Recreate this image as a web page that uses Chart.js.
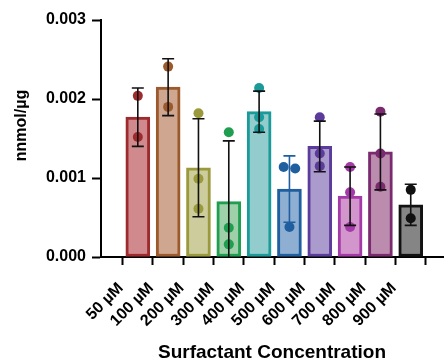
<!DOCTYPE html>
<html lang="en">
<head>
<meta charset="UTF-8" />
<title>Surfactant Concentration</title>
<script src="https://cdn.jsdelivr.net/npm/chart.js"></script>
<style>
  html, body { margin: 0; padding: 0; background: #fff; }
  #wrap { width: 448px; height: 361px; }
</style>
</head>
<body>
<div id="wrap"><canvas id="chart"></canvas></div>
<script>
// data (nnmol/µg)
const categories = ['50 µM', '100 µM', '200 µM', '300 µM', '400 µM', '500 µM', '600 µM', '700 µM', '800 µM', '900 µM'];
const means = [0.00177, 0.00215, 0.00113, 0.00070, 0.00184, 0.00086, 0.00140, 0.00077, 0.00133, 0.00066];
const sds = [0.00037, 0.00036, 0.00062, 0.00077, 0.00026, 0.00042, 0.00032, 0.00037, 0.00048, 0.00026];
const replicates = [
    [0.00204, 0.00152],
    [0.00241, 0.00190],
    [0.00182, 0.00099, 0.00061],
    [0.00158, 0.00037, 0.00016],
    [0.00214, 0.00177, 0.00162],
    [0.00114, 0.00112, 0.00038],
    [0.00177, 0.00131, 0.00115],
    [0.00114, 0.00082, 0.00038],
    [0.00184, 0.00131, 0.00089],
    [0.00085, 0.00049]
];
const yTicks = [0, 0.001, 0.002, 0.003];
const yTitle = 'nnmol/µg';

// colours
const lineColors = ['#9e2a2e', '#9c5a2c', '#9a9a3c', '#1f9e50', '#1b9a9a', '#1f5fa0', '#5b3b9c', '#a43aa8', '#7a2a6e', '#111111'];
const fillColors = ['#d08a8d', '#cfa68f', '#cccc9c', '#9ed0a9', '#93cccc', '#8eaed2', '#ab9acc', '#d296cc', '#bc8cae', '#858585'];
const errColors = ['#111', '#111', '#111', '#111', '#111', '#1f5fa0', '#111', '#111', '#111', '#111'];

const FONT = 'Liberation Sans, Arial, Helvetica, sans-serif';
Chart.defaults.color = '#000';
Chart.defaults.font.family = FONT;

// scatter points, spread apart when two replicates nearly coincide
const pointData = [];
const pointColors = [];
replicates.forEach((vals, i) => {
    vals.forEach((v, j) => {
        const twin = vals.findIndex((w, k) => k !== j && Math.abs(w - v) < 0.00008);
        const shift = twin < 0 ? 0 : (j < twin ? -0.19 : 0.19);
        pointData.push({ x: i + shift, y: v });
        pointColors.push(lineColors[i]);
    });
});

// mean ± SD whiskers, drawn on top of bars and points
const errorBars = {
    id: 'errorBars',
    afterDatasetsDraw(chart) {
        const { ctx, scales: { x, y } } = chart;
        ctx.save();
        ctx.lineWidth = 1.6;
        means.forEach((m, i) => {
            const px = x.getPixelForValue(i);
            const hi = m + sds[i];
            const lo = m - sds[i];
            const yHi = y.getPixelForValue(hi);
            const yLo = y.getPixelForValue(Math.max(lo, y.min));
            ctx.strokeStyle = errColors[i];
            ctx.beginPath();
            ctx.moveTo(px, yHi);
            ctx.lineTo(px, yLo);
            ctx.moveTo(px - 6, yHi);
            ctx.lineTo(px + 6, yHi);
            if (lo >= y.min) {
                ctx.moveTo(px - 6, yLo);
                ctx.lineTo(px + 6, yLo);
            }
            ctx.stroke();
        });
        ctx.restore();
    }
};

// y title sits a bit above the middle of the axis in the original, so draw it by hand
const yTitlePlugin = {
    id: 'yTitle',
    afterDraw(chart) {
        const { ctx, chartArea } = chart;
        ctx.save();
        ctx.translate(22, chartArea.top + (chartArea.bottom - chartArea.top) * 0.445);
        ctx.rotate(-Math.PI / 2);
        ctx.font = 'bold 16px ' + FONT;
        ctx.fillStyle = '#000';
        ctx.textAlign = 'center';
        ctx.textBaseline = 'middle';
        ctx.fillText(yTitle, 0, 0);
        ctx.restore();
    }
};

new Chart(document.getElementById('chart'), {
    type: 'bar',
    data: {
        datasets: [
            {
                type: 'scatter',
                data: pointData,
                pointRadius: 5,
                pointBackgroundColor: pointColors,
                pointBorderColor: pointColors,
                pointBorderWidth: 0,
                order: 1
            },
            {
                type: 'bar',
                data: means.map((m, i) => ({ x: i, y: m })),
                backgroundColor: fillColors,
                borderColor: lineColors,
                borderWidth: 3,
                borderSkipped: false,
                barThickness: 24,
                order: 2
            }
        ]
    },
    options: {
        responsive: true,
        maintainAspectRatio: false,
        animation: false,
        layout: { padding: { top: 20, right: 1, left: 0, bottom: 0 } },
        plugins: {
            legend: { display: false },
            tooltip: { enabled: false }
        },
        scales: {
            x: {
                type: 'linear',
                min: -0.65,
                max: 9.5,
                afterFit: (s) => { s.height = 104; },
                border: { color: '#000', width: 2 },
                grid: { drawOnChartArea: false, tickLength: 8, tickWidth: 2, tickColor: '#000' },
                ticks: {
                    stepSize: 1,
                    includeBounds: false,
                    autoSkip: false,
                    maxRotation: 45,
                    minRotation: 45,
                    padding: 14,
                    labelOffset: -17,
                    font: { size: 16, weight: 'bold' },
                    callback: (v) => Number.isInteger(v) ? categories[v] : ''
                },
                title: {
                    display: true,
                    text: 'Surfactant Concentration',
                    font: { size: 19, weight: 'bold' },
                    padding: { top: 0, bottom: -3 }
                }
            },
            y: {
                min: 0,
                max: 0.003,
                afterFit: (s) => { s.width = 101; },
                afterBuildTicks: (s) => { s.ticks = yTicks.map(v => ({ value: v })); },
                border: { color: '#000', width: 2 },
                grid: { drawOnChartArea: false, tickLength: 9, tickWidth: 2, tickColor: '#000' },
                ticks: {
                    padding: 6,
                    font: { size: 16, weight: 'bold' },
                    callback: (v) => v.toFixed(3)
                }
            }
        }
    },
    plugins: [errorBars, yTitlePlugin]
});
</script>
</body>
</html>
